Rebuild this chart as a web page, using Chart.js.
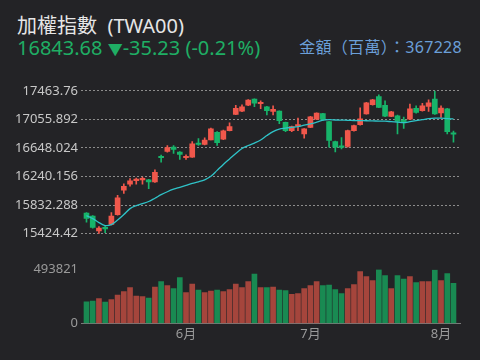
<!DOCTYPE html>
<html><head><meta charset="utf-8">
<script src="https://cdn.jsdelivr.net/npm/chart.js@4.4.0/dist/chart.umd.min.js"></script>
<style>
html,body{margin:0;padding:0;background:#232326;width:480px;height:360px;overflow:hidden;font-family:"Noto Sans","Noto Sans CJK TC",sans-serif;}
#wrap{position:relative;width:480px;height:360px;}
.t{position:absolute;white-space:pre;line-height:1;}
#title{left:17px;top:16px;font-size:20px;color:#e6e6e6;}
#quote{left:17px;top:38px;font-size:20px;color:#1fae64;}
#quote .arr{font-size:15px;}
#amt{right:18px;top:39px;font-size:16px;color:#6b9fd8;letter-spacing:0.3px;}
#pc{position:absolute;left:0;top:80px;}
#vc{position:absolute;left:0;top:255px;}
</style></head>
<body><div id="wrap">
<div class="t" id="title">加權指數  (TWA00)</div>
<div class="t" id="quote"></div>
<div class="t" id="amt"></div>
<canvas id="pc" width="480" height="165"></canvas>
<canvas id="vc" width="480" height="95"></canvas>
</div>
<script>
const categories = ['5/10','5/11','5/12','5/15','5/16','5/17','5/18','5/19','5/22','5/23','5/24','5/25','5/26','5/29','5/30','5/31',
'6/1','6/2','6/5','6/6','6/7','6/8','6/9','6/12','6/13','6/14','6/15','6/16','6/19','6/20','6/21','6/26','6/27','6/28','6/29','6/30',
'7/3','7/4','7/5','7/6','7/7','7/10','7/11','7/12','7/13','7/14','7/17','7/18','7/19','7/20','7/21','7/24','7/25','7/26','7/27','7/28','7/31',
'8/1','8/2','8/3'];
const openV = [15718,15676,15463,15505,15558,15697,16044,16130,16182,16192,16193,16162,16520,16598,16659,16588,16508,16517,16707,16697,16764,16872,16772,16896,17127,17172,17257,17345,17279,17236,17169,17175,17013,16896,16959,16849,16942,17059,17137,17023,16740,16664,16669,16896,16981,17133,17265,17382,17257,17099,17108,17033,17059,17215,17179,17240,17345,17147,17208,16850];
const closeV = [15643,15515,15505,15494,15676,15938,16101,16179,16189,16198,16165,16300,16508,16654,16626,16555,16517,16707,16697,16761,16920,16725,16891,16952,17212,17236,17333,17289,17286,17179,17201,17038,16896,16952,16967,16920,17094,17147,17056,16754,16659,16657,16896,16967,17062,17293,17335,17226,17101,17165,17028,17023,17208,17155,17250,17293,17133,17218,16878.91,16843.68];
const highV = [15725,15683,15527,15534,15725,15973,16137,16210,16219,16233,16200,16335,16548,16683,16683,16598,16551,16740,16782,16792,16931,16881,16903,17005,17255,17265,17338,17350,17321,17243,17250,17179,17016,16959,17076,16924,17099,17151,17144,17028,16747,16796,16903,16974,17222,17300,17343,17406,17321,17172,17116,17087,17274,17250,17286,17335,17463.76,17250,17215,16889];
const lowV = [15590,15505,15424.42,15439,15548,15690,15998,16101,16130,16130,16068,16158,16446,16588,16569,16484,16484,16513,16683,16690,16761,16683,16768,16891,17123,17165,17250,17236,17208,17118,17118,16995,16881,16881,16896,16789,16938,17052,17038,16659,16591,16636,16661,16889,16974,17130,17257,17222,17094,17094,16849,16928,17052,17144,17172,17169,17127,17084,16849,16730];
const maV = [15683,15640,15583,15541,15555,15619,15697,15782,15825,15853,15884,15931,15981,16023,16059,16087,16115,16144,16165,16193,16243,16328,16413,16491,16569,16640,16683,16718,16761,16825,16881,16917,16931,16942,16952,16974,16991,17016,17045,17052,17047,17045,17043,17040,17038,17036,17034,17032,17030,17023,17016,17009,17023,17038,17052,17066,17073,17073,17066,17062];
const volumeV = [198000,204700,225800,195500,216600,259800,290100,326800,250600,244200,232200,333200,381800,345100,317600,418600,280900,360700,305700,280900,296500,305700,290100,308400,360700,326800,381800,452500,326800,326800,333200,305700,299200,266200,271700,317600,345100,381800,345100,351600,308400,271700,317600,354300,473600,427700,391000,493821,436900,317600,436900,406600,427700,372700,381800,381800,488000,391000,455300,367228];
const priceTickLabels = ['17463.76','17055.892','16648.024','16240.156','15832.288','15424.42'];
const volTickLabels = ['493821','0'];

const priceTicks = priceTickLabels.map(Number);
const volTicks = volTickLabels.map(Number);
const monthTicks = [], monthLabels = [];
categories.forEach((d,i)=>{
  const m = d.split('/')[0];
  if (i>0 && m !== categories[i-1].split('/')[0]) { monthTicks.push(i); monthLabels.push(m+'月'); }
});

const n = categories.length;
const last = closeV[n-1], prev = closeV[n-2];
const chg = last - prev;
const q = document.getElementById('quote');
q.appendChild(document.createTextNode(last.toFixed(2)+' '));
const arr = document.createElement('span'); arr.className='arr'; arr.textContent = chg<0?'▼':'▲'; q.appendChild(arr);
q.appendChild(document.createTextNode(chg.toFixed(2)+' ('+(chg/prev*100).toFixed(2)+'%)'));
document.getElementById('amt').textContent = '金額（百萬）：'+volumeV[n-1];

const UP='#f0574b', DN='#17b46a', VUP='#a5453c', VDN='#198a52';
const isUp = closeV.map((c,i)=>c>=openV[i]);
const xMin=-0.884, xMax=60.05;
const FONT = '"Noto Sans","Noto Sans CJK TC",sans-serif';

new Chart(document.getElementById('pc'), {
  type:'bar',
  data:{datasets:[
    {type:'line', data:maV.map((v,i)=>({x:i,y:v})), borderColor:'#2fc3c8', borderWidth:1.3, pointRadius:0, tension:0.35, order:0},
    {data:openV.map((o,i)=>({x:i,y:[o,closeV[i]]})), backgroundColor:isUp.map(u=>u?UP:DN), barThickness:5, minBarLength:1.5, grouped:false, order:1},
    {data:lowV.map((l,i)=>({x:i,y:[l,highV[i]]})), backgroundColor:isUp.map(u=>u?UP:DN), barThickness:1, grouped:false, order:2}
  ]},
  options:{
    responsive:false, animation:false,
    layout:{padding:{left:0,right:20,top:10,bottom:11.3}},
    plugins:{legend:{display:false},tooltip:{enabled:false}},
    scales:{
      x:{type:'linear',min:xMin,max:xMax,display:false,offset:false},
      y:{min:priceTicks[priceTicks.length-1],max:priceTicks[0],
         afterBuildTicks:s=>{s.ticks=priceTicks.map(v=>({value:v}));},
         afterFit:s=>{s.width=81;},
         ticks:{color:'#c8c8c8',font:{size:13,family:FONT},padding:3,
           callback:(v)=>priceTickLabels[priceTicks.indexOf(v)]},
         grid:{color:'#8c8c8c',drawTicks:false,lineWidth:1},
         border:{display:false,dash:[2,2]}}
    }
  }
});

new Chart(document.getElementById('vc'), {
  type:'bar',
  data:{datasets:[
    {data:volumeV.map((v,i)=>({x:i,y:v})), backgroundColor:isUp.map(u=>u?VUP:VDN), barThickness:5}
  ]},
  options:{
    responsive:false, animation:false,
    layout:{padding:{left:0,right:20,top:14.5,bottom:6.7}},
    plugins:{legend:{display:false},tooltip:{enabled:false}},
    scales:{
      x:{type:'linear',min:xMin,max:xMax,offset:false,
         afterBuildTicks:s=>{s.ticks=monthTicks.map(v=>({value:v}));},
         afterFit:s=>{s.height=20;},
         ticks:{color:'#9a9a9a',font:{size:13,family:FONT},padding:3,autoSkip:false,maxRotation:0,
           callback:(v)=>monthLabels[monthTicks.indexOf(v)]},
         grid:{display:false,drawTicks:false},
         border:{display:true,color:'#7a7a7a',width:1}},
      y:{min:0,max:volTicks[0],
         afterBuildTicks:s=>{s.ticks=volTicks.map(v=>({value:v}));},
         afterFit:s=>{s.width=81;},
         ticks:{color:'#9a9a9a',font:{size:13,family:FONT},padding:3,
           callback:(v)=>volTickLabels[volTicks.indexOf(v)]},
         grid:{display:false,drawTicks:false},
         border:{display:false}}
    }
  }
});
</script>
</body></html>
